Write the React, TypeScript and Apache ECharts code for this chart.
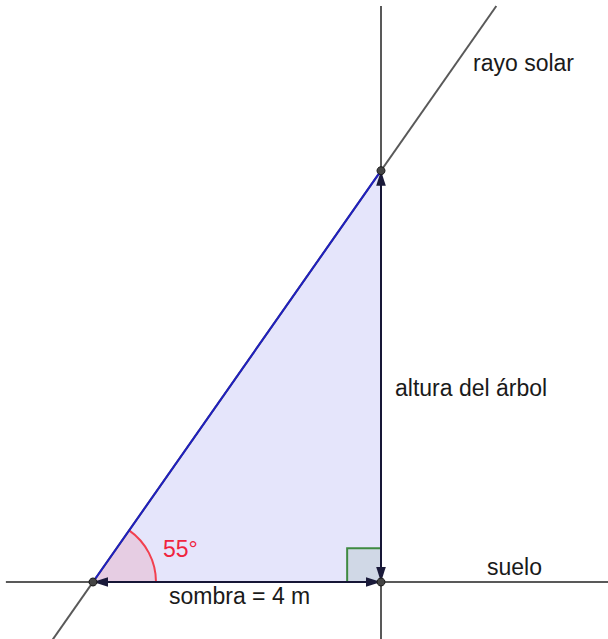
import React, { useEffect, useRef } from "react";
import * as echarts from "echarts";

// ---- data (metres) ----
const shadowLength = 4; // sombra = 4 m
const sunAngleDeg = 55; // ángulo del rayo solar
const treeHeight = shadowLength * Math.tan((sunAngleDeg * Math.PI) / 180);

const pointA = [0, 0]; // extremo de la sombra
const pointC = [shadowLength, 0]; // pie del árbol
const pointT = [shadowLength, treeHeight]; // copa del árbol

const groundLine = [[-1.21, 0], [7.2, 0]];
const treeLine = [[shadowLength, -0.8], [shadowLength, 8.0]];
const rayLine = [
  [-0.8 / Math.tan((sunAngleDeg * Math.PI) / 180), -0.8],
  [8.0 / Math.tan((sunAngleDeg * Math.PI) / 180), 8.0],
];

const angleRadius = 0.875;
const rightAngleSize = 0.47;

const labelTexts = ["rayo solar", "altura del árbol", "suelo", "sombra = 4 m", "55°"];

// axis window
const X_MIN = -93 / 72;
const X_MAX = (608 - 93) / 72;
const Y_MIN = -57 / 72;
const Y_MAX = 582 / 72;

const FONT = "Liberation Sans, Arial, sans-serif";
const FS = 23;

function arrowHead(api: any, from: number[], to: number[]) {
  const p = api.coord(from);
  const q = api.coord(to);
  const dx = q[0] - p[0];
  const dy = q[1] - p[1];
  const L = Math.hypot(dx, dy);
  const ux = dx / L;
  const uy = dy / L;
  const len = 15;
  const hw = 4.8;
  const bx = q[0] - ux * len;
  const by = q[1] - uy * len;
  return {
    type: "polygon",
    shape: {
      points: [
        [q[0], q[1]],
        [bx - uy * hw, by + ux * hw],
        [bx + uy * hw, by - ux * hw],
      ],
    },
    style: { fill: "#1a1a3a" },
  };
}

export default function App() {
  const ref = useRef<HTMLDivElement>(null);
  useEffect(() => {
    if (!ref.current) return;
    const chart = echarts.init(ref.current, null, { renderer: "svg" });
    const lineStyleGray = { color: "#595959", width: 2 };
    const txt = (i: number, x: number, y: number, fill: string) => ({
      type: "text",
      z: 100,
      x,
      y,
      style: { text: labelTexts[i], font: `${FS}px ${FONT}`, fill, verticalAlign: "middle" },
    });
    const option: any = {
      animation: false,
      backgroundColor: "#ffffff",
      grid: { left: 0, right: 0, top: 0, bottom: 0 },
      xAxis: { type: "value", min: X_MIN, max: X_MAX, show: false },
      yAxis: { type: "value", min: Y_MIN, max: Y_MAX, show: false },
      series: [
        {
          type: "custom",
          z: 1,
          data: [0],
          renderItem: (_p: any, api: any) => ({
            type: "polygon",
            shape: { points: [pointA, pointC, pointT].map((pt) => api.coord(pt)) },
            style: { fill: "#e5e5fb" },
          }),
        },
        {
          type: "custom",
          z: 2,
          data: [0],
          renderItem: (_p: any, api: any) => {
            const c = api.coord(pointA);
            const r = api.coord([pointA[0] + angleRadius, 0])[0] - c[0];
            const a0 = (-sunAngleDeg * Math.PI) / 180;
            return {
              type: "group",
              children: [
                {
                  type: "sector",
                  shape: { cx: c[0], cy: c[1], r0: 0, r, startAngle: a0, endAngle: 0, clockwise: true },
                  style: { fill: "#e6cde3" },
                },
                {
                  type: "arc",
                  shape: { cx: c[0], cy: c[1], r, startAngle: a0, endAngle: 0, clockwise: true },
                  style: { stroke: "#f2404f", lineWidth: 2, fill: null },
                },
              ],
            };
          },
        },
        {
          type: "custom",
          z: 2,
          data: [0],
          renderItem: (_p: any, api: any) => {
            const p0 = api.coord([pointC[0] - rightAngleSize, pointC[1]]);
            const p1 = api.coord([pointC[0] - rightAngleSize, pointC[1] + rightAngleSize]);
            const p2 = api.coord([pointC[0], pointC[1] + rightAngleSize]);
            const c = api.coord(pointC);
            return {
              type: "group",
              children: [
                {
                  type: "polygon",
                  shape: { points: [p0, p1, p2, c] },
                  style: { fill: "#d0d8e6" },
                },
                {
                  type: "polyline",
                  shape: { points: [p0, p1, p2] },
                  style: { stroke: "#3f8a42", lineWidth: 2, fill: null },
                },
              ],
            };
          },
        },
        { type: "line", z: 3, data: groundLine, symbol: "none", lineStyle: lineStyleGray },
        { type: "line", z: 3, data: treeLine, symbol: "none", lineStyle: lineStyleGray },
        { type: "line", z: 3, data: rayLine, symbol: "none", lineStyle: lineStyleGray },
        {
          type: "line",
          z: 4,
          data: [pointA, pointT],
          symbol: "none",
          lineStyle: { color: "#1f1fbf", width: 2 },
        },
        {
          type: "line",
          z: 4,
          data: [pointA, pointC],
          symbol: "none",
          lineStyle: { color: "#161636", width: 2 },
        },
        {
          type: "line",
          z: 4,
          data: [pointC, pointT],
          symbol: "none",
          lineStyle: { color: "#161636", width: 2 },
        },
        {
          type: "custom",
          z: 5,
          data: [0],
          renderItem: (_p: any, api: any) => ({
            type: "group",
            children: [
              arrowHead(api, pointC, pointA),
              arrowHead(api, pointA, pointC),
              arrowHead(api, pointT, pointC),
              arrowHead(api, pointC, pointT),
            ],
          }),
        },
        {
          type: "scatter",
          z: 6,
          data: [pointA, pointC, pointT],
          symbolSize: 8,
          itemStyle: { color: "#444444", borderColor: "#1a1a1a", borderWidth: 1, opacity: 1 },
        },
      ],
      graphic: [
        txt(0, 473, 62.5, "#1a1a1a"),
        txt(1, 395, 388, "#1a1a1a"),
        txt(2, 487, 567, "#1a1a1a"),
        txt(3, 169, 596, "#1a1a1a"),
        txt(4, 163, 549, "#f0243e"),
      ],
    };
    chart.setOption(option);
    return () => chart.dispose();
  }, []);
  return (
    <div
      ref={ref}
      style={{ position: "fixed", left: 0, top: 0, width: 608, height: 639, background: "#fff" }}
    />
  );
}
